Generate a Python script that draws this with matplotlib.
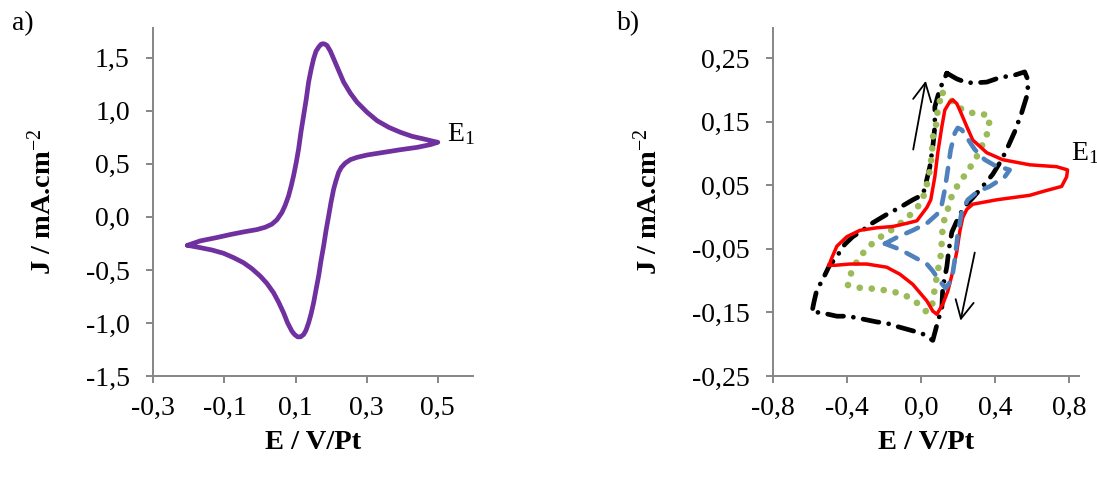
import matplotlib
matplotlib.use('Agg')
import matplotlib.pyplot as plt
from matplotlib.ticker import FixedLocator, FuncFormatter

plt.rcParams['font.family'] = ['Liberation Serif', 'DejaVu Serif']
plt.rcParams['mathtext.fontset'] = 'custom'
plt.rcParams['mathtext.rm'] = 'Liberation Serif'
plt.rcParams['mathtext.it'] = 'Liberation Serif:italic'
plt.rcParams['mathtext.bf'] = 'Liberation Serif:bold'

# ---------------- Panel a data (E / V/Pt, J / mA.cm-2) ----------------
a_E = [-0.2042, -0.1685, -0.1216, -0.0840, -0.0465, -0.0089, 0.0146, 0.0333, 0.0474, 0.0615,
       0.0709, 0.0803, 0.0878, 0.0944, 0.1019, 0.1085, 0.1150, 0.1226, 0.1301, 0.1366,
       0.1441, 0.1507, 0.1573, 0.1648, 0.1714, 0.1761, 0.1817, 0.1883, 0.1977, 0.2071,
       0.2211, 0.2352, 0.2540, 0.2728, 0.3010, 0.3291, 0.3620, 0.3949, 0.4277, 0.4606,
       0.4841, 0.5000,
       0.4794, 0.4418, 0.3949, 0.3479, 0.3010, 0.2728, 0.2540, 0.2399, 0.2287, 0.2211,
       0.2136, 0.2071, 0.1995, 0.1930, 0.1855, 0.1789, 0.1714, 0.1648, 0.1573, 0.1507,
       0.1432, 0.1366, 0.1291, 0.1226, 0.1141, 0.1057, 0.0972, 0.0897, 0.0775, 0.0662,
       0.0521, 0.0380, 0.0193, 0.0005, -0.0230, -0.0465, -0.0746, -0.1028, -0.1357, -0.1685,
       -0.2042]
a_J = [-0.268, -0.227, -0.195, -0.167, -0.142, -0.120, -0.098, -0.069, -0.028, 0.041,
       0.110, 0.198, 0.293, 0.388, 0.514, 0.640, 0.797, 0.955, 1.112, 1.270,
       1.396, 1.490, 1.560, 1.600, 1.626, 1.632, 1.629, 1.616, 1.563, 1.490,
       1.380, 1.270, 1.166, 1.081, 0.986, 0.907, 0.844, 0.797, 0.759, 0.734,
       0.715, 0.703,
       0.681, 0.655, 0.633, 0.608, 0.583, 0.561, 0.539, 0.507, 0.466, 0.419,
       0.340, 0.262, 0.135, 0.009, -0.132, -0.274, -0.416, -0.558, -0.690, -0.810,
       -0.920, -0.999, -1.071, -1.109, -1.131, -1.131, -1.109, -1.078, -0.999, -0.904,
       -0.803, -0.715, -0.627, -0.558, -0.488, -0.432, -0.384, -0.343, -0.312, -0.290,
       -0.268]

a_xticks = [-0.3, -0.1, 0.1, 0.3, 0.5]
a_yticks = [-1.5, -1.0, -0.5, 0.0, 0.5, 1.0, 1.5]

# ---------------- Panel b data ----------------
red_E = [-0.499, -0.483, -0.456, -0.402, -0.331, -0.240, -0.153, -0.077, -0.023, 0.031,
         0.052, 0.074, 0.090, 0.112, 0.128, 0.155, 0.171, 0.193, 0.209, 0.247,
         0.279, 0.355, 0.441, 0.587, 0.733, 0.792,
         0.787, 0.760, 0.658, 0.587, 0.409, 0.279, 0.247, 0.225, 0.209, 0.193,
         0.171, 0.144, 0.117, 0.085, 0.063, 0.031, -0.045, -0.115, -0.186, -0.294,
         -0.386, -0.467, -0.499]
red_J = [-0.076, -0.064, -0.046, -0.031, -0.021, -0.017, -0.015, -0.010, -0.006, 0.015,
         0.027, 0.063, 0.101, 0.142, 0.168, 0.181, 0.184, 0.178, 0.168, 0.142,
         0.121, 0.101, 0.090, 0.082, 0.079, 0.074,
         0.063, 0.048, 0.040, 0.034, 0.027, 0.020, 0.012, -0.001, -0.023, -0.054,
         -0.086, -0.117, -0.137, -0.153, -0.148, -0.132, -0.106, -0.090, -0.079, -0.074,
         -0.074, -0.076, -0.076]

blue_E = [-0.196, -0.131, -0.045, 0.031, 0.085, 0.112, 0.128, 0.144, 0.160, 0.182,
          0.198, 0.220, 0.247, 0.290, 0.344, 0.398, 0.479,
          0.452, 0.371, 0.306, 0.252, 0.220, 0.198, 0.182, 0.166, 0.133, 0.101,
          0.063, 0.031, -0.045, -0.115, -0.196]
blue_J = [-0.042, -0.032, -0.021, -0.010, 0.004, 0.020, 0.043, 0.074, 0.106, 0.132,
          0.140, 0.137, 0.125, 0.106, 0.090, 0.081, 0.074,
          0.063, 0.048, 0.040, 0.027, 0.009, -0.027, -0.067, -0.098, -0.112, -0.101,
          -0.085, -0.074, -0.062, -0.051, -0.042]

green_E = [0.117, 0.171, 0.225, 0.306, 0.360, 0.371, 0.344, 0.301, 0.263, 0.220,
           0.171, 0.144, 0.117, 0.112, 0.106, 0.090, 0.074, 0.063, 0.047, 0.025,
           -0.034, -0.094, -0.158, -0.223, -0.288, -0.348, -0.396, -0.375, -0.331, -0.277,
           -0.223, -0.158, -0.099, -0.045, 0.004, 0.031, 0.047, 0.058, 0.063, 0.085,
           0.090, 0.117]
green_J = [0.195, 0.181, 0.168, 0.161, 0.161, 0.142, 0.121, 0.095, 0.077, 0.059,
           0.038, 0.012, -0.012, -0.038, -0.060, -0.085, -0.111, -0.134, -0.148, -0.148,
           -0.132, -0.122, -0.117, -0.114, -0.112, -0.111, -0.107, -0.084, -0.062, -0.045,
           -0.032, -0.020, -0.007, 0.007, 0.024, 0.051, 0.074, 0.098, 0.125, 0.150,
           0.173, 0.195]

black_E = [0.139, 0.193, 0.247, 0.301, 0.355, 0.425, 0.506, 0.560, 0.577, 0.577,
           0.544, 0.506, 0.469, 0.436, 0.387, 0.333, 0.279, 0.247, 0.209, 0.166,
           0.150, 0.139, 0.117, 0.112, 0.085, 0.063, 0.004, -0.045, -0.132, -0.186,
           -0.240, -0.358, -0.402, -0.456, -0.548, -0.591, -0.580, -0.564, -0.537, -0.499,
           -0.456, -0.413, -0.370, -0.316, -0.278, -0.186, -0.115, -0.045, 0.009, 0.020,
           0.047, 0.063, 0.074, 0.074, 0.101, 0.139]
black_J = [0.226, 0.217, 0.211, 0.211, 0.212, 0.219, 0.223, 0.228, 0.216, 0.195,
           0.164, 0.134, 0.110, 0.090, 0.067, 0.048, 0.030, 0.020, 0.004, -0.024,
           -0.051, -0.078, -0.111, -0.142, -0.170, -0.194, -0.183, -0.179, -0.172, -0.167,
           -0.165, -0.158, -0.156, -0.156, -0.150, -0.150, -0.134, -0.114, -0.101, -0.078,
           -0.062, -0.043, -0.031, -0.021, -0.012, 0.004, 0.015, 0.027, 0.035, 0.046,
           0.079, 0.110, 0.142, 0.173, 0.201, 0.226]

# scan-direction arrows: (tail E, tail J, head E, head J)
arrow_up = (-0.043, 0.106, 0.025, 0.214)
arrow_down = (0.290, -0.056, 0.213, -0.163)

b_xticks = [-0.8, -0.4, 0.0, 0.4, 0.8]
b_yticks = [-0.25, -0.15, -0.05, 0.05, 0.15, 0.25]

AXCOL = '#868686'
FS = 20
FSL = 20.5


def style_axes(ax, xticks, yticks, xfmt, yfmt):
    for s in ('top', 'right'):
        ax.spines[s].set_visible(False)
    for s in ('left', 'bottom'):
        ax.spines[s].set_color(AXCOL)
        ax.spines[s].set_linewidth(1.4)
    ax.xaxis.set_major_locator(FixedLocator(xticks))
    ax.yaxis.set_major_locator(FixedLocator(yticks))
    ax.xaxis.set_major_formatter(FuncFormatter(lambda v, p: xfmt.format(v).replace('.', ',')))
    ax.yaxis.set_major_formatter(FuncFormatter(lambda v, p: yfmt.format(v).replace('.', ',')))
    ax.tick_params(axis='both', direction='out', length=5.0, width=1.4, color=AXCOL,
                   labelsize=FS, labelcolor='black')
    ax.tick_params(axis='x', pad=9)
    ax.tick_params(axis='y', pad=12)
    ax.set_xlabel('E / V/Pt', fontsize=FSL, fontweight='bold', labelpad=7)
    ax.set_ylabel('J / mA.cm$^{-2}$', fontsize=FSL, fontweight='bold', labelpad=21)


fig = plt.figure(figsize=(10.97, 4.88), dpi=100)
axa = fig.add_axes([0.1398, 0.2295, 0.2917, 0.7131])
axb = fig.add_axes([0.7049, 0.2295, 0.2787, 0.7131])

# Panel a
axa.plot(a_E, a_J, color='#7030A0', lw=3.4, solid_joinstyle='round', solid_capstyle='round')
axa.set_xlim(-0.3, 0.6)
axa.set_ylim(-1.5, 1.78)
style_axes(axa, a_xticks, a_yticks, '{:.1f}', '{:.1f}')
axa.text(0.525, 0.718, 'E$_1$', fontsize=FS, ha='left', va='baseline')

# Panel b
axb.plot(black_E, black_J, color='black', lw=3.4, dashes=(3.4, 2.1, 0.01, 2.1),
         dash_capstyle='round', dash_joinstyle='round')
axb.plot(green_E, green_J, color='#9BBB59', lw=4.8, dashes=(0.01, 1.8),
         dash_capstyle='round')
axb.plot(red_E, red_J, color='#FF0000', lw=2.5, solid_joinstyle='round')
axb.plot(blue_E, blue_J, color='#4F81BD', lw=3.3, dashes=(2.8, 2.4),
         dash_capstyle='round', dash_joinstyle='round')
for tE, tJ, hE, hJ in (arrow_up, arrow_down):
    axb.annotate('', xy=(hE, hJ), xytext=(tE, tJ),
                 arrowprops=dict(arrowstyle='->,head_length=0.65,head_width=0.33',
                                 mutation_scale=20, lw=1.3, color='black',
                                 shrinkA=0, shrinkB=0))
axb.set_xlim(-0.8, 0.854)
axb.set_ylim(-0.25, 0.297)
style_axes(axb, b_xticks, b_yticks, '{:.1f}', '{:.2f}')
axb.text(0.809, 0.090, 'E$_1$', fontsize=FS, ha='left', va='baseline', clip_on=False)

fig.text(12 / 1097, 1 - 30 / 488, 'a)', fontsize=FS, ha='left', va='baseline')
fig.text(617 / 1097, 1 - 30 / 488, 'b)', fontsize=FS, ha='left', va='baseline')

fig.savefig('out.png', dpi=100)
